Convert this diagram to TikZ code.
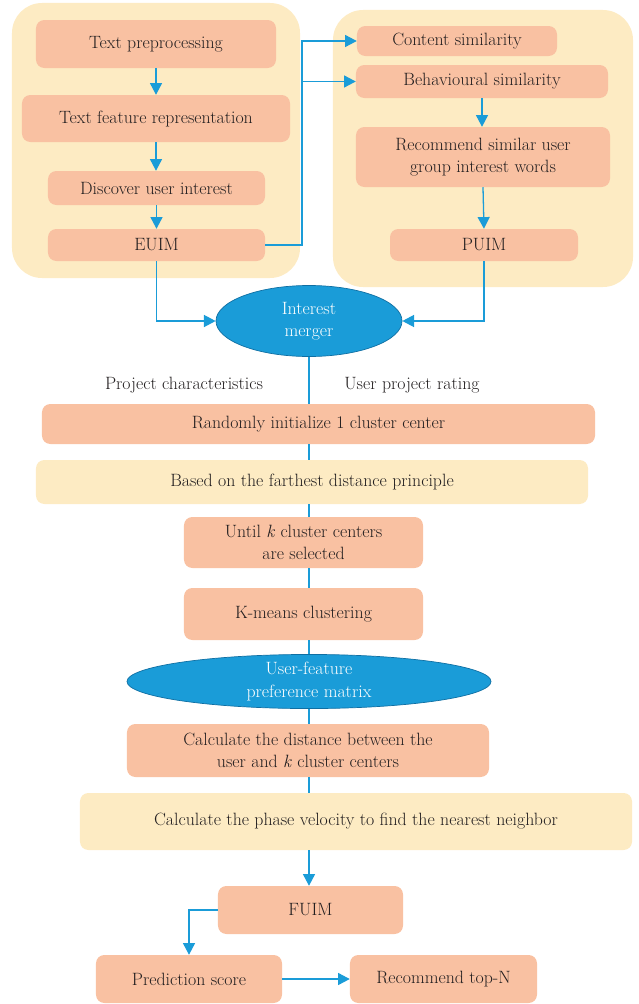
\documentclass[tikz,border=0pt]{standalone}
\usetikzlibrary{arrows.meta,shapes.geometric}
\definecolor{salmon}{HTML}{F9C1A2}
\definecolor{cream}{HTML}{FDEBC3}
\definecolor{flowblue}{HTML}{1A9CD8}
\definecolor{edgeblue}{HTML}{0F6FA3}
\definecolor{inkdark}{HTML}{231F20}

\begin{document}
\begin{tikzpicture}[x=.03cm,y=-.03cm,
  every node/.style={font=\fontsize{15.2}{19}\selectfont,text=inkdark,inner sep=0pt},
  panel/.style={fill=cream,rounded corners=.9cm},
  box/.style={fill=salmon,rounded corners=.25cm,align=center},
  softbox/.style={fill=cream,rounded corners=.25cm,align=center},
  blob/.style={ellipse,fill=flowblue,draw=edgeblue,line width=.6pt,text=white,align=center},
  link/.style={draw=flowblue,line width=1.1pt},
  arr/.style={link,-{Triangle[length=.35cm,width=.36cm]}}]
 \path[use as bounding box] (0,0) rectangle (638,1004);
 % the two groups at the top
 \node[panel,minimum width=8.64cm,minimum height=8.25cm] (lpanel) at (156,140.5) {};
 \node[panel,minimum width=9cm,minimum height=8.31cm] (rpanel) at (483,148.5) {};
 \node[box,minimum width=7.2cm,minimum height=1.44cm] (tpre) at (156,44) {Text preprocessing};
 \node[box,minimum width=8.04cm,minimum height=1.41cm] (tfeat) at (156,118.5) {Text feature representation};
 \node[box,minimum width=6.51cm,minimum height=1.02cm] (disc) at (156.5,188) {Discover user interest};
 \node[box,minimum width=6.51cm,minimum height=.96cm] (euim) at (156.5,245) {EUIM};
 \node[box,minimum width=6cm,minimum height=.9cm] (csim) at (457,41) {Content similarity};
 \node[box,minimum width=7.56cm,minimum height=.99cm] (bsim) at (482,81.5) {Behavioural similarity};
 \node[box,minimum width=7.62cm,minimum height=1.8cm] (rec) at (483,157) {Recommend similar user\\group interest words};
 \node[box,minimum width=5.64cm,minimum height=.96cm] (puim) at (484,245) {PUIM};
 \node[blob,minimum width=5.58cm,minimum height=2.13cm] (merge) at (309,321) {Interest\\merger};
 \node (pchar) at (184,385) {Project characteristics};
 \node (urate) at (412,385) {User project rating};
 % clustering part
 \node[box,minimum width=16.59cm,minimum height=1.2cm] (init) at (318.5,424) {Randomly initialize 1 cluster center};
 \node[softbox,minimum width=16.56cm,minimum height=1.32cm] (based) at (312,482) {Based on the farthest distance principle};
 \node[box,minimum width=7.17cm,minimum height=1.53cm] (until) at (303.5,542.5) {Until \textit{k} cluster centers\\are selected};
 \node[box,minimum width=7.17cm,minimum height=1.56cm] (kmeans) at (303.5,614) {K-means clustering};
 \node[blob,minimum width=10.92cm,minimum height=1.47cm] (ufpm) at (309,681.5) {User-feature\\preference matrix};
 \node[box,minimum width=10.86cm,minimum height=1.59cm] (dist) at (308,750.5) {Calculate the distance between the\\user and \textit{k} cluster centers};
 \node[softbox,minimum width=16.56cm,minimum height=1.71cm] (phase) at (356,821.5) {Calculate the phase velocity to find the nearest neighbor};
 \node[box,minimum width=5.55cm,minimum height=1.44cm] (fuim) at (310.5,910) {FUIM};
 \node[box,minimum width=5.58cm,minimum height=1.44cm] (pred) at (189,979) {Prediction score};
 \node[box,minimum width=5.61cm,minimum height=1.44cm] (topn) at (443.5,979) {Recommend top-N};
 % connectors
 \draw[arr] (tpre) -- (tfeat);
 \draw[arr] (tfeat.south) -- (tfeat.south |- disc.north);
 \draw[arr] (disc) -- (euim);
 \coordinate (bus) at (302,245);
 \draw[arr] (euim.east) -- (bus) |- (csim.west);
 \draw[arr] (bus) |- (bsim.west);
 \draw[arr] (bsim.south) -- (bsim.south |- rec.north);
 \draw[arr] (rec.south) -- (puim.north);
 \draw[arr] (euim.south) |- (merge.west);
 \draw[arr] (puim.south) |- (merge.east);
 \draw[link] (merge.south) -- (merge.south |- init.north);
 \foreach \a/\b in {init/based,based/until,until/kmeans,kmeans/ufpm,ufpm/dist,dist/phase}
  \draw[link] (merge.south |- \a.south) -- (merge.south |- \b.north);
 \draw[arr] (merge.south |- phase.south) -- (merge.south |- fuim.north);
 \draw[arr] (fuim.west) -| (pred.north);
 \draw[arr] (pred) -- (topn);
\end{tikzpicture}
\end{document}
